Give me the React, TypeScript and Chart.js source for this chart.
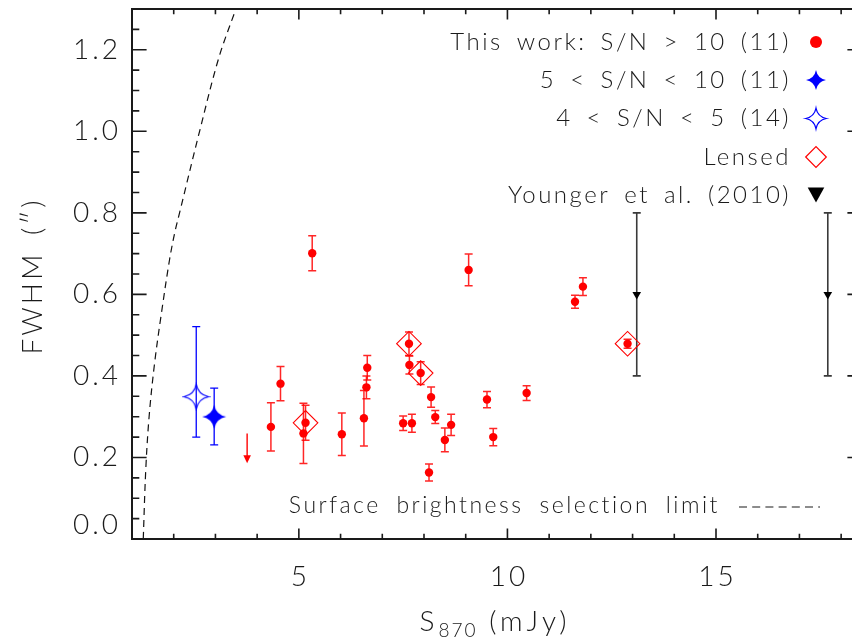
import { useEffect, useRef } from 'react';
import { Chart, registerables } from 'chart.js';

Chart.register(...registerables);

// ---------------- data ----------------
// This work, S/N > 10 (S870 in mJy, FWHM in arcsec, symmetric 1-sigma error)
const workFlux = [5.32, 4.56, 4.33, 5.16, 5.11, 6.03, 6.56, 6.64, 6.62, 7.64, 7.65, 7.92, 7.50, 7.71, 9.07, 11.81, 11.62, 12.88, 8.17, 8.27, 8.65, 8.50, 8.12, 9.51, 9.66, 10.46];
const workFwhm = [0.701, 0.381, 0.275, 0.285, 0.259, 0.257, 0.296, 0.420, 0.372, 0.479, 0.427, 0.407, 0.284, 0.284, 0.660, 0.619, 0.582, 0.479, 0.348, 0.299, 0.280, 0.243, 0.163, 0.342, 0.250, 0.358];
const workErr = [0.043, 0.042, 0.059, 0.043, 0.074, 0.052, 0.068, 0.030, 0.028, 0.029, 0.022, 0.028, 0.018, 0.022, 0.039, 0.022, 0.016, 0.011, 0.025, 0.016, 0.026, 0.029, 0.021, 0.020, 0.021, 0.018];

// Lensed sources
const lensedFlux = [5.16, 7.64, 7.92, 12.88];
const lensedFwhm = [0.285, 0.479, 0.407, 0.479];

// 5 < S/N < 10 (stacked)
const midFlux = [2.97];
const midFwhm = [0.300];
const midErrLow = [0.231];
const midErrHigh = [0.370];

// 4 < S/N < 5 (stacked)
const lowFlux = [2.54];
const lowFwhm = [0.349];
const lowErrLow = [0.250];
const lowErrHigh = [0.521];

// Younger et al. (2010)
const youngerFlux = [13.10, 17.68];
const youngerFwhm = [0.6, 0.6];
const youngerErr = [0.2, 0.2];

// upper limit (arrow)
const limitFlux = [3.76];
const limitFrom = [0.259];
const limitTo = [0.186];

// surface brightness selection limit curve
const sbFlux = [1.27, 1.33, 1.41, 1.54, 1.70, 1.90, 2.03, 2.14, 2.62, 3.08, 3.49];
const sbFwhm = [0.0, 0.17, 0.30, 0.43, 0.55, 0.685, 0.754, 0.80, 1.00, 1.18, 1.30];

// axes
const xRange = [1, 18.5];
const yRange = [0, 1.3];
const xTicks = [5, 10, 15];
const xTickLabels = ['5', '10', '15'];
const yTicks = [0.0, 0.2, 0.4, 0.6, 0.8, 1.0, 1.2];
const yTickLabels = ['0.0', '0.2', '0.4', '0.6', '0.8', '1.0', '1.2'];
const xMinorStep = 1;
const yMinorStep = 0.05;

const legendLabels = [
  'This work: S/N > 10 (11)',
  '5 < S/N < 10 (11)',
  '4 < S/N < 5 (14)',
  'Lensed',
  'Younger et al. (2010)',
];
const sbLabel = 'Surface brightness selection limit';
const yTitle = 'FWHM (\u2033)';

const FONT = 'Lato, "Liberation Sans", sans-serif';
const INK = '#1a1a1a';

// -------------- marker helpers --------------
function starPath(ctx: CanvasRenderingContext2D, cx: number, cy: number, R: number) {
  const c = 0.16 * R;
  ctx.beginPath();
  ctx.moveTo(cx, cy - R);
  ctx.quadraticCurveTo(cx + c, cy - c, cx + R, cy);
  ctx.quadraticCurveTo(cx + c, cy + c, cx, cy + R);
  ctx.quadraticCurveTo(cx - c, cy + c, cx - R, cy);
  ctx.quadraticCurveTo(cx - c, cy - c, cx, cy - R);
  ctx.closePath();
}

function makeStar(R: number, filled: boolean, color: string) {
  const s = Math.ceil(R * 2 + 4);
  const cv = document.createElement('canvas');
  cv.width = s;
  cv.height = s;
  const ctx = cv.getContext('2d')!;
  starPath(ctx, s / 2, s / 2, R);
  if (filled) {
    ctx.fillStyle = color;
    ctx.fill();
  } else {
    ctx.strokeStyle = color;
    ctx.lineWidth = 1.1;
    ctx.stroke();
  }
  return cv;
}

function setText(ctx: CanvasRenderingContext2D, size: number, ls: number, ws: number) {
  ctx.font = `300 ${size}px ${FONT}`;
  (ctx as any).letterSpacing = `${ls}px`;
  (ctx as any).wordSpacing = `${ws}px`;
  ctx.fillStyle = INK;
}

function resetText(ctx: CanvasRenderingContext2D) {
  (ctx as any).letterSpacing = '0px';
  (ctx as any).wordSpacing = '0px';
}

// -------------- plugins --------------
const errorBarPlugin = {
  id: 'errorBars',
  beforeDatasetsDraw(chart: any) {
    const { ctx, scales } = chart;
    const x = scales.x;
    const y = scales.y;
    const bar = (xv: number, lo: number, hi: number, color: string, lw: number, cap: number) => {
      const px = x.getPixelForValue(xv);
      const p1 = y.getPixelForValue(lo);
      const p2 = y.getPixelForValue(hi);
      ctx.save();
      ctx.strokeStyle = color;
      ctx.lineWidth = lw;
      ctx.beginPath();
      ctx.moveTo(px, p1);
      ctx.lineTo(px, p2);
      ctx.moveTo(px - cap, p1);
      ctx.lineTo(px + cap, p1);
      ctx.moveTo(px - cap, p2);
      ctx.lineTo(px + cap, p2);
      ctx.stroke();
      ctx.restore();
    };
    workFlux.forEach((f, i) => bar(f, workFwhm[i] - workErr[i], workFwhm[i] + workErr[i], 'rgba(255,0,0,0.85)', 1.5, 4));
    midFlux.forEach((f, i) => bar(f, midErrLow[i], midErrHigh[i], '#0000ff', 1.3, 4));
    lowFlux.forEach((f, i) => bar(f, lowErrLow[i], lowErrHigh[i], '#0000ff', 1.3, 4));
    youngerFlux.forEach((f, i) => bar(f, youngerFwhm[i] - youngerErr[i], youngerFwhm[i] + youngerErr[i], '#3a3a3a', 1.6, 4));

    // upper-limit arrow
    limitFlux.forEach((f, i) => {
      const px = x.getPixelForValue(f);
      const p1 = y.getPixelForValue(limitFrom[i]);
      const p2 = y.getPixelForValue(limitTo[i]);
      ctx.save();
      ctx.strokeStyle = '#ff0000';
      ctx.fillStyle = '#ff0000';
      ctx.lineWidth = 1.4;
      ctx.beginPath();
      ctx.moveTo(px, p1);
      ctx.lineTo(px, p2 - 6);
      ctx.stroke();
      ctx.beginPath();
      ctx.moveTo(px - 3.8, p2 - 8);
      ctx.lineTo(px + 3.8, p2 - 8);
      ctx.lineTo(px, p2);
      ctx.closePath();
      ctx.fill();
      ctx.restore();
    });
  },
};

const framePlugin = {
  id: 'idlFrame',
  afterDraw(chart: any) {
    const { ctx, chartArea: a, scales } = chart;
    const x = scales.x;
    const y = scales.y;
    ctx.save();
    // frame
    ctx.strokeStyle = INK;
    ctx.lineWidth = 2;
    ctx.strokeRect(a.left, a.top, a.right - a.left, a.bottom - a.top);

    const h = a.bottom - a.top;
    const w = a.right - a.left;
    const xMaj = 0.02 * h;
    const yMaj = 0.02 * w;
    ctx.lineWidth = 1.6;
    ctx.beginPath();
    // x ticks (bottom & top)
    for (let v = Math.ceil(xRange[0]); v <= xRange[1] + 1e-9; v += xMinorStep) {
      const isMaj = xTicks.some((t) => Math.abs(t - v) < 1e-6);
      const len = isMaj ? xMaj : xMaj / 2;
      const px = x.getPixelForValue(v);
      ctx.moveTo(px, a.bottom);
      ctx.lineTo(px, a.bottom - len);
      ctx.moveTo(px, a.top);
      ctx.lineTo(px, a.top + len);
    }
    // y ticks (left & right)
    for (let k = 0; k * yMinorStep <= yRange[1] + 1e-9; k++) {
      const v = k * yMinorStep;
      const isMaj = yTicks.some((t) => Math.abs(t - v) < 1e-6);
      const len = isMaj ? yMaj : yMaj / 2;
      const py = y.getPixelForValue(v);
      ctx.moveTo(a.left, py);
      ctx.lineTo(a.left + len, py);
      ctx.moveTo(a.right, py);
      ctx.lineTo(a.right - len, py);
    }
    ctx.stroke();

    // tick labels
    setText(ctx, 28, 3, 0);
    ctx.textBaseline = 'middle';
    ctx.textAlign = 'right';
    yTicks.forEach((v, i) => {
      let py = y.getPixelForValue(v);
      if (i === 0) py -= 14;
      ctx.fillText(yTickLabels[i], 121, py);
    });
    ctx.textAlign = 'center';
    xTicks.forEach((v, i) => {
      ctx.fillText(xTickLabels[i], x.getPixelForValue(v) + 1.5, 577);
    });

    // y title
    ctx.save();
    ctx.translate(33, 276);
    ctx.rotate(-Math.PI / 2);
    setText(ctx, 28, 3, 6);
    ctx.textAlign = 'center';
    ctx.textBaseline = 'middle';
    ctx.fillText(yTitle, 0, 0);
    ctx.restore();

    // x title: S_870 (mJy)
    setText(ctx, 28, 4, 12);
    ctx.textAlign = 'left';
    ctx.textBaseline = 'alphabetic';
    const wS = ctx.measureText('S').width;
    const wRest = ctx.measureText(' (mJy)').width;
    setText(ctx, 19, 2, 0);
    const wSub = ctx.measureText('870').width;
    const total = wS + wSub + wRest;
    let cx = 495 - total / 2;
    const base = 631;
    setText(ctx, 28, 4, 12);
    ctx.fillText('S', cx, base);
    cx += wS;
    setText(ctx, 19, 2, 0);
    ctx.fillText('870', cx, base + 6);
    cx += wSub;
    setText(ctx, 28, 4, 12);
    ctx.fillText(' (mJy)', cx, base);

    // legend
    setText(ctx, 24, 2.5, 5);
    ctx.textAlign = 'right';
    ctx.textBaseline = 'middle';
    const ly = [42, 80, 118.5, 157, 195];
    const mx = 816;
    legendLabels.forEach((lab, i) => ctx.fillText(lab, 791, ly[i]));
    resetText(ctx);
    // markers
    ctx.fillStyle = '#ff0000';
    ctx.beginPath();
    ctx.arc(mx, ly[0], 6, 0, Math.PI * 2);
    ctx.fill();
    ctx.fillStyle = '#0000ff';
    starPath(ctx, mx, ly[1], 10);
    ctx.fill();
    ctx.strokeStyle = '#0000ff';
    ctx.lineWidth = 1.2;
    starPath(ctx, mx, ly[2], 10.3);
    ctx.stroke();
    ctx.strokeStyle = '#ff0000';
    ctx.lineWidth = 1.2;
    ctx.beginPath();
    ctx.moveTo(mx - 10.3, ly[3]);
    ctx.lineTo(mx, ly[3] - 10.3);
    ctx.lineTo(mx + 10.3, ly[3]);
    ctx.lineTo(mx, ly[3] + 10.3);
    ctx.closePath();
    ctx.stroke();
    ctx.fillStyle = '#000';
    ctx.beginPath();
    ctx.moveTo(mx - 8.3, ly[4] - 7.5);
    ctx.lineTo(mx + 8.3, ly[4] - 7.5);
    ctx.lineTo(mx, ly[4] + 7.5);
    ctx.closePath();
    ctx.fill();

    // surface brightness label
    setText(ctx, 23, 2.5, 7);
    ctx.textAlign = 'right';
    ctx.textBaseline = 'middle';
    ctx.fillText(sbLabel, 720, 506);
    resetText(ctx);
    ctx.strokeStyle = INK;
    ctx.lineWidth = 1.2;
    ctx.setLineDash([8, 5.2]);
    ctx.beginPath();
    ctx.moveTo(739, 507);
    ctx.lineTo(820, 507);
    ctx.stroke();
    ctx.setLineDash([]);
    ctx.restore();
  },
};

export default function App() {
  const ref = useRef<HTMLCanvasElement>(null);
  useEffect(() => {
    const starFilled = makeStar(12, true, '#0000ff');
    const starOpen = makeStar(12.3, false, '#0000ff');
    const chart = new Chart(ref.current!, {
      type: 'scatter',
      data: {
        datasets: [
          {
            label: sbLabel,
            data: sbFlux.map((f, i) => ({ x: f, y: sbFwhm[i] })),
            showLine: true,
            borderColor: '#111',
            borderWidth: 1.2,
            borderDash: [7, 5],
            pointRadius: 0,
            tension: 0.35,
            fill: false,
          },
          {
            label: legendLabels[0],
            data: workFlux.map((f, i) => ({ x: f, y: workFwhm[i] })),
            pointStyle: 'circle',
            pointRadius: 4.2,
            backgroundColor: '#ff0000',
            borderWidth: 0,
          },
          {
            label: legendLabels[3],
            data: lensedFlux.map((f, i) => ({ x: f, y: lensedFwhm[i] })),
            pointStyle: 'rectRot',
            pointRadius: 12.3,
            backgroundColor: 'rgba(0,0,0,0)',
            borderColor: '#ff0000',
            borderWidth: 1.1,
          },
          {
            label: legendLabels[1],
            data: midFlux.map((f, i) => ({ x: f, y: midFwhm[i] })),
            pointStyle: starFilled as any,
          },
          {
            label: legendLabels[2],
            data: lowFlux.map((f, i) => ({ x: f, y: lowFwhm[i] })),
            pointStyle: starOpen as any,
          },
          {
            label: legendLabels[4],
            data: youngerFlux.map((f, i) => ({ x: f, y: youngerFwhm[i] })),
            pointStyle: 'triangle',
            rotation: 180,
            pointRadius: 5,
            backgroundColor: '#000',
            borderColor: '#000',
            borderWidth: 0,
          },
        ],
      },
      options: {
        responsive: false,
        animation: false,
        devicePixelRatio: 1,
        layout: { autoPadding: false, padding: { left: 132, top: 9, right: 2, bottom: 100 } },
        scales: {
          x: { type: 'linear', min: xRange[0], max: xRange[1], display: false },
          y: { type: 'linear', min: yRange[0], max: yRange[1], display: false },
        },
        plugins: { legend: { display: false }, tooltip: { enabled: false } },
        events: [],
      },
      plugins: [errorBarPlugin, framePlugin],
    });
    return () => chart.destroy();
  }, []);
  return (
    <div style={{ position: 'fixed', left: 0, top: 0, width: 852, height: 639, overflow: 'hidden', background: '#fff' }}>
      <canvas ref={ref} width={864} height={639} style={{ display: 'block', width: 864, height: 639 }} />
    </div>
  );
}
